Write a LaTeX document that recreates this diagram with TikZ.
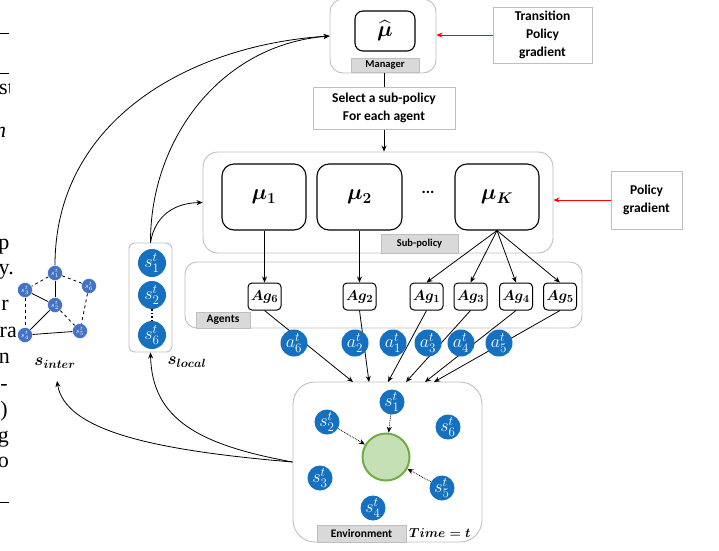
\RequirePackage{fix-cm}
\documentclass[tikz,border=0pt]{standalone}
\usepackage{amsmath}
\usepackage{fontspec}
\setmainfont{Carlito}
\newfontfamily\paperfont{Liberation Serif}
\usetikzlibrary{arrows.meta,calc}
\definecolor{sblue}{HTML}{1570C0}
\definecolor{ublue}{HTML}{4472C4}
\definecolor{tagfill}{HTML}{D9D9D9}
\definecolor{gfill}{HTML}{C5E0B4}
\definecolor{gline}{HTML}{70AD47}
\definecolor{redarr}{HTML}{FF0000}
\newcommand{\fs}[1]{\fontsize{#1}{#1}\selectfont}
\DeclareMathSizes{18}{18}{13}{9}
\DeclareMathSizes{14.5}{14.5}{11}{8}
\DeclareMathSizes{7}{7}{5.5}{4}
\begin{document}
\begin{tikzpicture}[x=1pt,y=-1pt,
  outerbox/.style={draw=black!25, line width=0.9pt, rounded corners=13pt, inner sep=0pt, fill=white},
  innerbox/.style={draw=black, line width=1.1pt, rounded corners=9pt, inner sep=0pt, fill=white},
  tagbox/.style={fill=tagfill, draw=black!25, line width=0.6pt, inner sep=0pt, font=\bfseries\fs{10.5}},
  plainbox/.style={draw=black!25, line width=1pt, fill=white, align=center, inner sep=0pt, font=\bfseries\fontsize{13.5}{18}\selectfont},
  agbox/.style={draw=black, line width=1pt, rounded corners=4pt, minimum width=33pt, minimum height=27pt, inner sep=0pt, fill=white, font=\fs{14.5}},
  bcirc/.style={circle, fill=sblue, text=white, inner sep=0pt, font=\fs{18}},
  scirc/.style={circle, fill=ublue, draw=white, line width=0.4pt, text=white, inner sep=0pt, minimum size=15pt, font=\fs{7}},
  arr/.style={-{Stealth[length=6pt,width=5pt]}, line width=0.8pt},
  link/.style={line width=0.8pt},
  frag/.style={font=\paperfont\fs{22}, anchor=base east, inner sep=0pt}
]
\useasboundingbox (0,0) rectangle (719,550);

% ---- cropped page text at left edge ----
\draw[line width=1pt] (0,33) -- (9,33);
\draw[line width=0.6pt] (0,73) -- (9,73);
\draw[line width=1pt] (0,502) -- (9,502);
\begin{scope}
\clip (0,70) rectangle (9.5,110);
\node[font=\paperfont\fs{22}, anchor=base west, inner sep=0pt] (f1) at (-1,94) {st};
\end{scope}
\begin{scope}
\clip (0,110) rectangle (15,500);
\node[font=\paperfont\itshape\fs{22}, anchor=base west, inner sep=0pt] (f2) at (-5,137) {n};
\node[frag] (f3) at (9.5,249) {p};
\node[frag] (f4) at (14,274) {y.};
\node[frag] (f5) at (9,310) {r};
\node[frag] (f6) at (17,337) {ra};
\node[frag] (f7) at (10,363) {n};
\node[frag] (f8) at (8,390) {-};
\node[frag] (f9) at (8,416) {)};
\node[frag] (f10) at (9,442) {g};
\node[frag] (f11) at (9,467) {o};
\end{scope}

% ---- manager ----
\node[outerbox, minimum width=106pt, minimum height=74pt] (mgr) at (383,36) {};
\node[innerbox, rounded corners=8pt, minimum width=60pt, minimum height=40pt, font=\fs{22}] (muhat) at (385,31) {$\boldsymbol{\widehat{\mu}}$};
\node[tagbox, minimum width=68pt, minimum height=14pt] (mgrtag) at (385,65) {Manager};
\node[plainbox, minimum width=99pt, minimum height=56pt] (tpg) at (542.5,35) {Transition\\Policy\\gradient};
\draw[arr, draw=redarr, line width=0.9pt] (tpg.west) -- (tpg.west -| mgr.east);

\node[plainbox, minimum width=142pt, minimum height=42pt] (sel) at (384,108) {Select a sub-policy\\For each agent};
\draw[link] (mgr.south -| sel.north) -- (sel.north);

% ---- sub-policy ----
\node[outerbox, rounded corners=15pt, minimum width=350pt, minimum height=101pt] (sub) at (378,202.5) {};
\draw[arr] (sel.south) -- (sel.south |- sub.north);
\node[innerbox, rounded corners=12pt, minimum width=84pt, minimum height=66pt, font=\fs{22}] (mu1) at (264,197) {$\boldsymbol{\mu_1}$};
\node[innerbox, rounded corners=12pt, minimum width=85pt, minimum height=66pt, font=\fs{22}] (mu2) at (359.5,197) {$\boldsymbol{\mu_2}$};
\node[innerbox, rounded corners=12pt, minimum width=84pt, minimum height=66pt, font=\fs{22}] (muK) at (497,197) {$\boldsymbol{\mu_K}$};
\node[font=\bfseries\fs{16}, inner sep=0pt] (dots) at (428,192) {...};
\node[tagbox, minimum width=77pt, minimum height=19pt] (subtag) at (419.5,243.5) {Sub-policy};
\node[plainbox, minimum width=71pt, minimum height=58pt] (pg) at (646.5,200) {Policy\\gradient};
\draw[arr, draw=redarr, line width=0.9pt] (pg.west) -- (pg.west -| sub.east);

% ---- agents ----
\node[outerbox, rounded corners=12pt, minimum width=397pt, minimum height=66pt] (agents) at (383.5,295) {};
\node[tagbox, minimum width=54pt, minimum height=16pt, font=\bfseries\fs{11.5}] (agtag) at (223,320) {Agents};
\node[agbox] (ag6) at (264.5,296.5) {$\boldsymbol{Ag_6}$};
\node[agbox] (ag2) at (359.5,296.5) {$\boldsymbol{Ag_2}$};
\node[agbox] (ag1) at (426.5,296.5) {$\boldsymbol{Ag_1}$};
\node[agbox] (ag3) at (470.5,296.5) {$\boldsymbol{Ag_3}$};
\node[agbox] (ag4) at (516,296.5) {$\boldsymbol{Ag_4}$};
\node[agbox] (ag5) at (560,296.5) {$\boldsymbol{Ag_5}$};
\draw[arr] (mu1.south -| ag6.north) -- (ag6.north);
\draw[arr] (mu2.south -| ag2.north) -- (ag2.north);
\draw[arr] (muK.south) -- (ag1.north);
\draw[arr] (muK.south) -- (ag3.north);
\draw[arr] (muK.south) -- (ag4.north);
\draw[arr] (muK.south) -- (ag5.north);

% ---- environment ----
\node[outerbox, rounded corners=22pt, minimum width=189pt, minimum height=160pt] (env) at (387.5,462) {};
\coordinate (t6) at (353,382);
\coordinate (t2) at (369,382);
\coordinate (t1) at (388,382);
\coordinate (t3) at (406,382);
\coordinate (t4) at (425,382);
\coordinate (t5) at (434,382);
\draw[arr] (ag6.south) -- (t6);
\draw[arr] (ag2.south) -- (t2);
\draw[arr] (ag1.south) -- (t1);
\draw[arr] (ag3.south) -- (t3);
\draw[arr] (ag4.south) -- (t4);
\draw[arr] (ag5.south) -- (t5);
\node[bcirc, minimum size=27pt] (a6) at (294,343) {$a^t_6$};
\node[bcirc, minimum size=27pt] (a2) at (355,343) {$a^t_2$};
\node[bcirc, minimum size=27pt] (a1) at (393,343) {$a^t_1$};
\node[bcirc, minimum size=27pt] (a3) at (428,343) {$a^t_3$};
\node[bcirc, minimum size=27pt] (a4) at (461,343) {$a^t_4$};
\node[bcirc, minimum size=27pt] (a5) at (499,343) {$a^t_5$};

\node[circle, fill=gfill, draw=gline, line width=2pt, minimum size=47pt, inner sep=0pt] (green) at (386,457) {};
\node[bcirc, minimum size=25pt] (es1) at (392,402) {$s^t_1$};
\node[bcirc, minimum size=25pt] (es2) at (327,422) {$s^t_2$};
\node[bcirc, minimum size=25pt] (es6) at (448,427) {$s^t_6$};
\node[bcirc, minimum size=25pt] (es3) at (320,478) {$s^t_3$};
\node[bcirc, minimum size=25pt] (es5) at (442,488) {$s^t_5$};
\node[bcirc, minimum size=25pt] (es4) at (373,508) {$s^t_4$};
\draw[arr, densely dotted] (es1) -- (green);
\draw[arr, densely dotted] (es2) -- (green);
\draw[arr, densely dotted] (es5) -- (green);
\node[tagbox, minimum width=89pt, minimum height=17pt, font=\bfseries\fs{11.5}] (envtag) at (361.5,533.5) {Environment};
\node[inner sep=0pt, font=\fs{13}, anchor=west] (time) at (409,533) {$\boldsymbol{Time=t}$};

% ---- s_local ----
\node[outerbox, rounded corners=6pt, minimum width=43pt, minimum height=109pt] (sloc) at (150.5,297.5) {};
\node[bcirc, minimum size=28pt] (l1) at (152,263) {$s^t_1$};
\node[bcirc, minimum size=28pt] (l2) at (152,295) {$s^t_2$};
\node[bcirc, minimum size=28pt] (l6) at (152,335) {$s^t_6$};
\draw[line width=1.6pt, dotted] (l2) -- (l6);
\node[inner sep=0pt, font=\fs{17}] (sloclab) at (187,362) {$\boldsymbol{s_{local}}$};

% ---- s_inter graph ----
\node[scirc] (i1) at (55,273) {$s^t_1$};
\node[scirc] (i3) at (25,290) {$s^t_3$};
\node[scirc] (i6) at (89,286) {$s^t_6$};
\node[scirc] (i2) at (55,305) {$s^t_2$};
\node[scirc] (i4) at (25,335) {$s^t_4$};
\node[scirc] (i5) at (80,331) {$s^t_5$};
\node[inner sep=0pt, font=\fs{17}] (silab) at (55,363) {$\boldsymbol{s_{inter}}$};
\coordinate (siarr) at (57,381);

\draw[link, dashed] (i1) -- (i3);
\draw[link, dashed] (i1) -- (i6);
\draw[link] (i1) -- (i2);
\draw[link] (i3) -- (i2);
\draw[link, dashed] (i3) -- (i4);
\draw[link] (i2) -- (i4);
\draw[link, dashed] (i2) -- (i5);
\draw[link, dashed] (i6) -- (i5);
\draw[link] (i4) -- (i5);

% ---- curved connectors ----
\draw[arr] (i1.north) .. controls (55,120) and (190,45) .. (mgr.west);
\draw[arr] (sloc.north) .. controls (150,140) and (220,45) .. (mgr.west);
\draw[arr] (sloc.north) .. controls (155,215) and (175,203) .. (sub.west);
\draw[arr] (env.west) .. controls (200,445) and (152,420) .. (sloc.south);
\draw[arr] (env.west) .. controls (150,450) and (65,430) .. (siarr);
\end{tikzpicture}
\end{document}
